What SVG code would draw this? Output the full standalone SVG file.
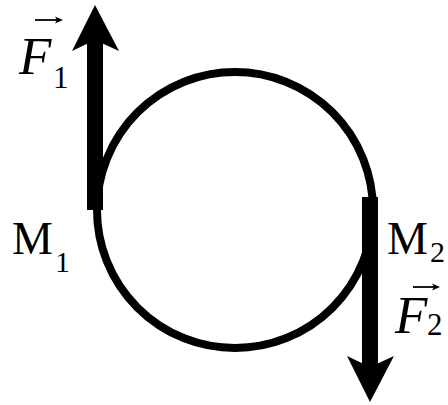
<svg xmlns="http://www.w3.org/2000/svg" width="448" height="405" viewBox="0 0 448 405">
<style>
.t{font-family:"Liberation Serif","Times New Roman",serif;fill:#000}
.it{font-style:italic}
.vec{stroke:#000;stroke-width:1.8;fill:none}
</style>
<rect width="448" height="405" fill="#fff"/>
<g id="connectors">
<circle cx="235" cy="210" r="138" fill="none" stroke="#000" stroke-width="8"/>
</g>
<g id="F1arrow">
<rect x="87" y="38" width="16" height="172" fill="#000"/>
<path d="M95,5 L119,51 L95,40 L72,51 Z" fill="#000"/>
</g>
<g id="F2arrow">
<rect x="362" y="197" width="16" height="172" fill="#000"/>
<path d="M370,402 L394,356 L370,367 L347,356 Z" fill="#000"/>
</g>
<g id="F1label">
<line class="vec" x1="35" y1="20" x2="58" y2="20"/>
<path d="M63,20 L55,16.5 L57,20 L55,23.5 Z" fill="#000"/>
<text class="t it" x="19" y="74" font-size="53">F</text>
<text class="t" x="53" y="88" font-size="31">1</text>
</g>
<g id="M1label">
<text class="t" x="12" y="254" font-size="46">M</text>
<text class="t" x="55" y="272" font-size="30">1</text>
</g>
<g id="M2label">
<text class="t" x="387" y="254" font-size="46">M</text>
<text class="t" x="430" y="262" font-size="30">2</text>
</g>
<g id="F2label">
<line class="vec" x1="413" y1="287" x2="435" y2="287"/>
<path d="M440,287 L432,283.5 L434,287 L432,290.5 Z" fill="#000"/>
<text class="t it" x="395" y="333" font-size="53">F</text>
<text class="t" x="427" y="335" font-size="31">2</text>
</g>
</svg>
